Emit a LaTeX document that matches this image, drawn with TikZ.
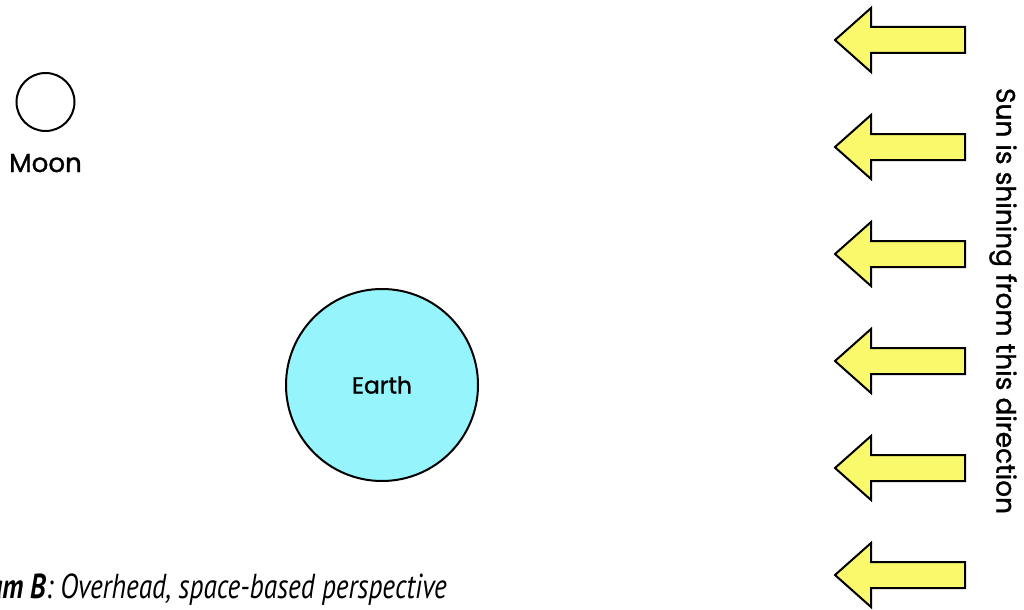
\documentclass[tikz,border=0pt]{standalone}
\usepackage{fontspec}
\setmainfont{Poppins}
\newfontfamily\lblfont[FakeBold=1.2]{Poppins}
\newfontfamily\capfont{PT Sans}
\definecolor{earthfill}{HTML}{96F4FC}
\definecolor{sunfill}{HTML}{F9F96B}
\begin{document}
\begin{tikzpicture}[x=0.75pt,y=-0.75pt,
  sunarrow/.style={draw=black,fill=sunfill,line width=1.5pt,line join=miter},
  body/.style={circle,draw=black,line width=1.5pt,inner sep=0pt},
  lbl/.style={font=\lblfont\fontsize{19.6}{21}\selectfont,inner sep=0pt}]
\useasboundingbox (0,0) rectangle (1024,610);
\clip (0,0) rectangle (1024,610);
% Moon
\node[body,minimum size=43.5pt] (moon) at (45.5,102) {};
\node[lbl,anchor=base] (moonlbl) at (45.5,172) {Moon};
% Earth
\node[body,fill=earthfill,minimum size=144pt] (earth) at (382,385) {};
\node[font=\lblfont\fontsize{17.5}{19}\selectfont,inner sep=0pt] (earthlbl) at (382,385) {Earth};
% Sun arrows
\foreach \c in {40,147,254,361,468,575}{
  \draw[sunarrow] (835,\c) -- (871,\c-32) -- (871,\c-13) -- (965,\c-13)
     -- (965,\c+13) -- (871,\c+13) -- (871,\c+32) -- cycle;
}
\node[lbl,font=\lblfont\fontsize{19.8}{21}\selectfont,rotate=-90] (sun) at (1003,301) {Sun is shining from this direction};
% caption
\node[anchor=base east,inner sep=0pt] (cap) at (447,598)
  {\scalebox{0.79}[1]{\capfont\fontsize{26}{28}\selectfont\itshape\textbf{Diagram B}: Overhead, space-based perspective}};
\end{tikzpicture}
\end{document}
